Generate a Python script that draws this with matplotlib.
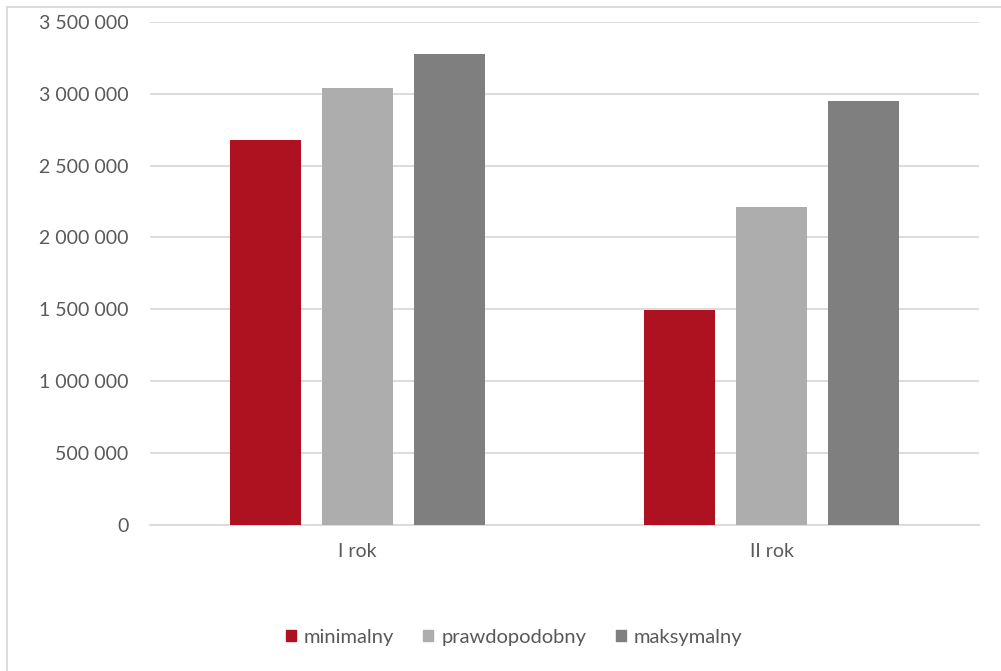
import matplotlib
matplotlib.use("Agg")
import matplotlib.pyplot as plt
from matplotlib.patches import Rectangle
from matplotlib.lines import Line2D
import numpy as np

categories = ["I rok", "II rok"]
series_names = ["minimalny", "prawdopodobny", "maksymalny"]
minimalny = [2680000, 1492000]
prawdopodobny = [3038000, 2210000]
maksymalny = [3277000, 2948000]
series_values = [minimalny, prawdopodobny, maksymalny]
colors = ["#AE1120", "#ADADAD", "#7F7F7F"]
y_ticks = [0, 500000, 1000000, 1500000, 2000000, 2500000, 3000000, 3500000]

plt.rcParams["font.family"] = ["Lato", "DejaVu Sans"]

W, H = 1001, 671
fig = plt.figure(figsize=(W / 100, H / 100), dpi=100)
fig.patch.set_facecolor("white")

# chart frame (top and left edges visible)
fig.add_artist(Line2D([6.5 / W, 6.5 / W], [0, 1 - 6.5 / H], transform=fig.transFigure,
                      color="#D9D9D9", lw=1.3))
fig.add_artist(Line2D([6.5 / W, 1], [1 - 6.5 / H, 1 - 6.5 / H], transform=fig.transFigure,
                      color="#D9D9D9", lw=1.3))

left, right = 150 / W, 979 / W
bottom, top = (H - 524.5) / H, (H - 22) / H
ax = fig.add_axes([left, bottom, right - left, top - bottom])

x = np.arange(len(categories))
bw = 71 / 414.5
step = 92 / 414.5
for i, (name, vals, c) in enumerate(zip(series_names, series_values, colors)):
    ax.bar(x + (i - 1) * step, vals, width=bw, color=c, label=name, zorder=3)

ax.set_xlim(-0.5, 1.5)
ax.set_ylim(0, 3500000)
ax.set_yticks(y_ticks)
ax.set_yticklabels([f"{v:,}".replace(",", " ") for v in y_ticks])
ax.set_xticks(x)
ax.set_xticklabels(categories)
ax.tick_params(axis="both", length=0, labelsize=14, labelcolor="#595959")
ax.tick_params(axis="y", pad=15.5)
ax.tick_params(axis="x", pad=13.5)
ax.grid(axis="y", color="#D9D9D9", lw=1.3, zorder=0)
for s in ["top", "right", "left"]:
    ax.spines[s].set_visible(False)
ax.spines["bottom"].set_color("#D9D9D9")
ax.spines["bottom"].set_linewidth(1.3)

handles = [Rectangle((0, 0), 1, 1, color=c) for c in colors]
fig.legend(handles, series_names, loc="center", bbox_to_anchor=(514 / W, 1 - 637 / H),
           ncol=3, frameon=False, fontsize=14.5, labelcolor="#595959",
           handlelength=0.5, handleheight=0.5, handletextpad=0.4, columnspacing=1.45)

fig.savefig("out.png", dpi=100, facecolor="white")
